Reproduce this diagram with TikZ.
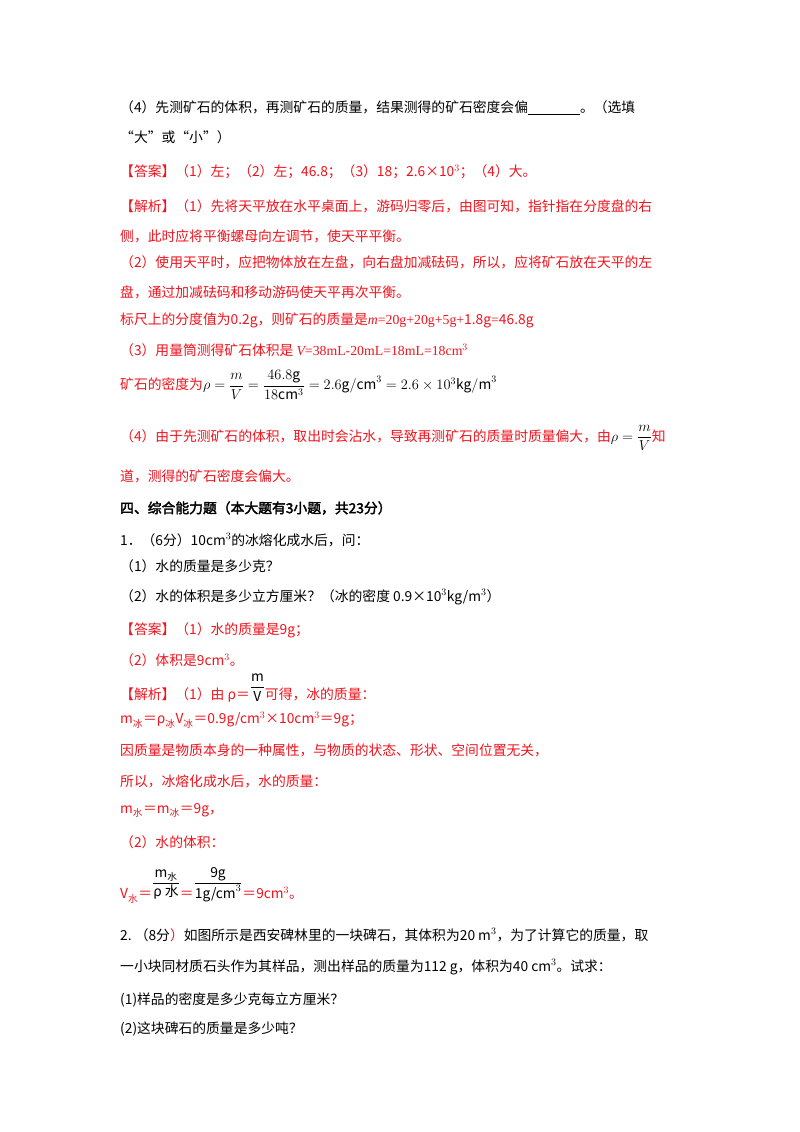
\documentclass[tikz,border=0pt]{standalone}
\usepackage{amsmath}
\usepackage{fontspec}
\setmainfont[AutoFakeBold=2.5]{Noto Sans CJK SC}
\newfontfamily\tms{Liberation Serif}
\usetikzlibrary{positioning}
\definecolor{ansred}{RGB}{240,20,30}

\begin{document}
\begin{tikzpicture}[x=1pt,y=-1pt,
  line/.style={anchor=west,inner sep=0pt,font=\fontsize{13.8}{16}\selectfont},
  redline/.style={line,text=ansred}]
\useasboundingbox[fill=white] (0,0) rectangle (800,1132);
%----------question (4)------------------------
\node[line] (q4a) at (120,108) {（4）先测矿石的体积，再测矿石的质量，结果测得的矿石密度会偏\underline{\hspace{52pt}}。（选填};
\node[line] (q4b) at (120,137) {“大”或“小”）};
%----------answer--------------------------------
\node[redline] (ans) at (120,172) {【答案】（1）左；（2）左；46.8；（3）18；2.6×10$^3$；（4）大。};
\node[redline] (ex1) at (120,206) {【解析】（1）先将天平放在水平桌面上，游码归零后，由图可知，指针指在分度盘的右};
\node[redline] (ex2) at (120,236) {侧，此时应将平衡螺母向左调节，使天平平衡。};
\node[redline] (ex3) at (120,262) {（2）使用天平时，应把物体放在左盘，向右盘加减砝码，所以，应将矿石放在天平的左};
\node[redline] (ex4) at (120,292) {盘，通过加减砝码和移动游码使天平再次平衡。};
\node[redline] (ex5) at (120,320) {标尺上的分度值为0.2g，则矿石的质量是{\tms\itshape m}{\tms =20g+20g+5g+}1.8g{\tms =}46.8g};
\node[redline] (ex6) at (120,350) {（3）用量筒测得矿石体积是 {\tms\itshape V}{\tms =38mL-20mL=18mL=18cm$^3$}};
\node[redline] (ex7) at (120,385) {矿石的密度为\textcolor{black}{$\rho=\dfrac{m}{V}=\dfrac{46.8\mathrm{g}}{18\mathrm{cm}^3}=2.6\mathrm{g/cm}^3=2.6\times10^3\mathrm{kg/m}^3$}};
\node[redline] (ex8) at (120,438) {（4）由于先测矿石的体积，取出时会沾水，导致再测矿石的质量时质量偏大，由\textcolor{black}{$\rho=\dfrac{m}{V}$}知};
\node[redline] (ex9) at (120,476) {道，测得的矿石密度会偏大。};
%----------part four-----------------------------
\node[line,font=\fontsize{13.8}{16}\selectfont\bfseries] (sec) at (120,508) {四、综合能力题（本大题有3小题，共23分）};
\node[line] (p1) at (120,540) {1．（6分）10cm$^3$的冰熔化成水后，问：};
\node[line] (p1a) at (120,566) {（1）水的质量是多少克？};
\node[line] (p1b) at (120,597) {（2）水的体积是多少立方厘米？（冰的密度 0.9×10$^3$kg/m$^3$）};
\node[redline] (a1) at (120,630) {【答案】（1）水的质量是9g；};
\node[redline] (a2) at (120,660) {（2）体积是9cm$^3$。};
\node[redline] (s1) at (120,688) {【解析】（1）由 ρ＝\textcolor{black}{\raisebox{8pt}{$\dfrac{\mathrm{m}}{\mathrm{V}}$}}可得，冰的质量：};
\node[redline] (s2) at (120,720) {m\textsubscript{冰}＝ρ\textsubscript{冰}V\textsubscript{冰}＝0.9g/cm$^3$×10cm$^3$＝9g；};
\node[redline] (s3) at (120,750) {因质量是物质本身的一种属性，与物质的状态、形状、空间位置无关，};
\node[redline] (s4) at (120,781) {所以，冰熔化成水后，水的质量：};
\node[redline] (s5) at (120,810) {m\textsubscript{水}＝m\textsubscript{冰}＝9g，};
\node[redline] (s6) at (120,842) {（2）水的体积：};
\node[redline] (s7) at (120,885) {V\textsubscript{水}＝\textcolor{black}{\raisebox{12pt}{$\dfrac{\text{m\textsubscript{水}}}{\text{ρ 水}}$}}＝\textcolor{black}{\raisebox{12pt}{$\dfrac{\text{9g}}{\text{1g/cm}^3}$}}＝9cm$^3$。};
%----------question 2----------------------------
\node[line] (p2) at (120,935) {2.\ （8分\textcolor{ansred}{）}如图所示是西安碑林里的一块碑石，其体积为20 m$^3$，为了计算它的质量，取};
\node[line] (p2a) at (120,967) {一小块同材质石头作为其样品，测出样品的质量为112 g，体积为40 cm$^3$。试求：};
\node[line] (p2b) at (120,1000) {(1)样品的密度是多少克每立方厘米？};
\node[line] (p2c) at (120,1029) {(2)这块碑石的质量是多少吨？};
\end{tikzpicture}
\end{document}
